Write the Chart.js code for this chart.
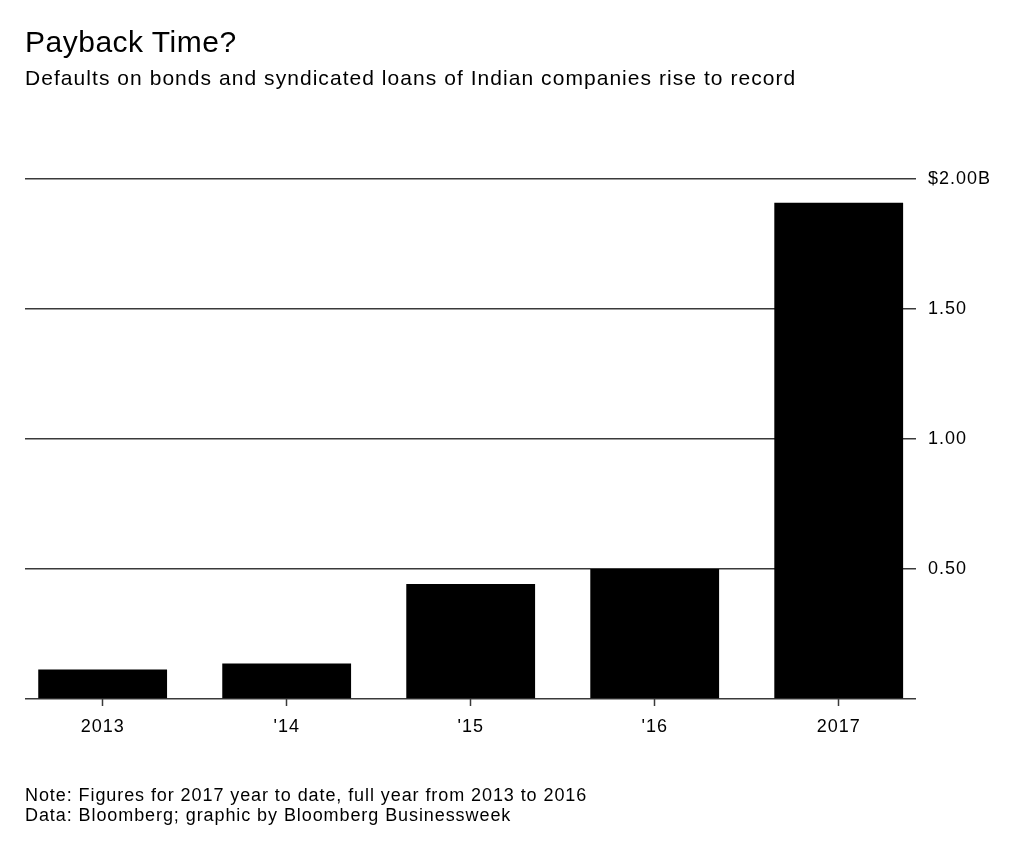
<!DOCTYPE html>
<html>
<head>
<meta charset="utf-8">
<script src="https://cdn.jsdelivr.net/npm/chart.js@4.4.1/dist/chart.umd.min.js"></script>
<style>
  html, body { margin:0; padding:0; background:#fff; }
  body { width:1024px; height:846px; position:relative; overflow:hidden; font-family:"Liberation Sans", Arial, sans-serif; color:#000; }
  .t { position:absolute; left:25px; white-space:nowrap; }
  #title { top:27px; font-size:30px; line-height:30px; letter-spacing:0.5px; }
  #subtitle { top:66.5px; font-size:21px; line-height:21px; letter-spacing:1.05px; }
  #notes { top:785px; font-size:18px; line-height:20px; letter-spacing:0.92px; }
  #wrap { position:absolute; left:0; top:0; width:1024px; height:846px; }
</style>
</head>
<body>
<div id="wrap"><canvas id="c"></canvas></div>
<div class="t" id="title">Payback Time?</div>
<div class="t" id="subtitle">Defaults on bonds and syndicated loans of Indian companies rise to record</div>
<div class="t" id="notes">Note: Figures for 2017 year to date, full year from 2013 to 2016<br>Data: Bloomberg; graphic by Bloomberg Businessweek</div>
<script>
const categories = ["2013", "'14", "'15", "'16", "2017"];
const defaults = [0.113, 0.137, 0.442, 0.50, 1.909];
const yTicks = [0, 0.5, 1.0, 1.5, 2.0];
const yTickLabels = ["", "0.50", "1.00", "1.50", "$2.00B"];

const lineColor = "#3a3a3a";

const spacingPlugin = {
  id: "spacing",
  beforeDraw(chart) { chart.ctx.letterSpacing = "1px"; }
};

new Chart(document.getElementById("c"), {
  type: "bar",
  data: {
    datasets: [{
      data: categories.map((c, i) => ({ x: i, y: defaults[i] })),
      backgroundColor: "#000",
      borderWidth: 0,
      categoryPercentage: 1,
      barPercentage: 0.7
    }]
  },
  plugins: [spacingPlugin],
  options: {
    responsive: true,
    maintainAspectRatio: false,
    animation: false,
    events: [],
    layout: { padding: { left: 25, right: 0, top: 179, bottom: 0 } },
    plugins: { legend: { display: false }, tooltip: { enabled: false } },
    scales: {
      x: {
        type: "linear",
        offset: false,
        min: -0.422,
        max: 4.42,
        afterBuildTicks: (s) => { s.ticks = categories.map((c, i) => ({ value: i })); },
        afterFit: (s) => { s.height = 846 - 699; },
        border: { display: false },
        grid: { offset: false, drawOnChartArea: false, drawTicks: true, tickLength: 7, tickColor: lineColor, tickWidth: 1.5 },
        ticks: {
          padding: 10,
          color: "#000",
          font: { family: "'Liberation Sans', Arial, sans-serif", size: 18 },
          callback: (v) => categories[v] ?? "",
          maxRotation: 0,
          autoSkip: false
        }
      },
      y: {
        position: "right",
        min: 0,
        max: 2.0,
        afterBuildTicks: (s) => { s.ticks = yTicks.map(v => ({ value: v })); },
        afterFit: (s) => { s.width = 1024 - 916; },
        border: { display: false },
        grid: { drawTicks: false, color: lineColor, lineWidth: 1.5 },
        ticks: {
          padding: 12,
          color: "#000",
          font: { family: "'Liberation Sans', Arial, sans-serif", size: 18 },
          callback: (v) => { const i = yTicks.indexOf(v); return i >= 0 ? yTickLabels[i] : ""; }
        }
      }
    }
  }
});
</script>
</body>
</html>
